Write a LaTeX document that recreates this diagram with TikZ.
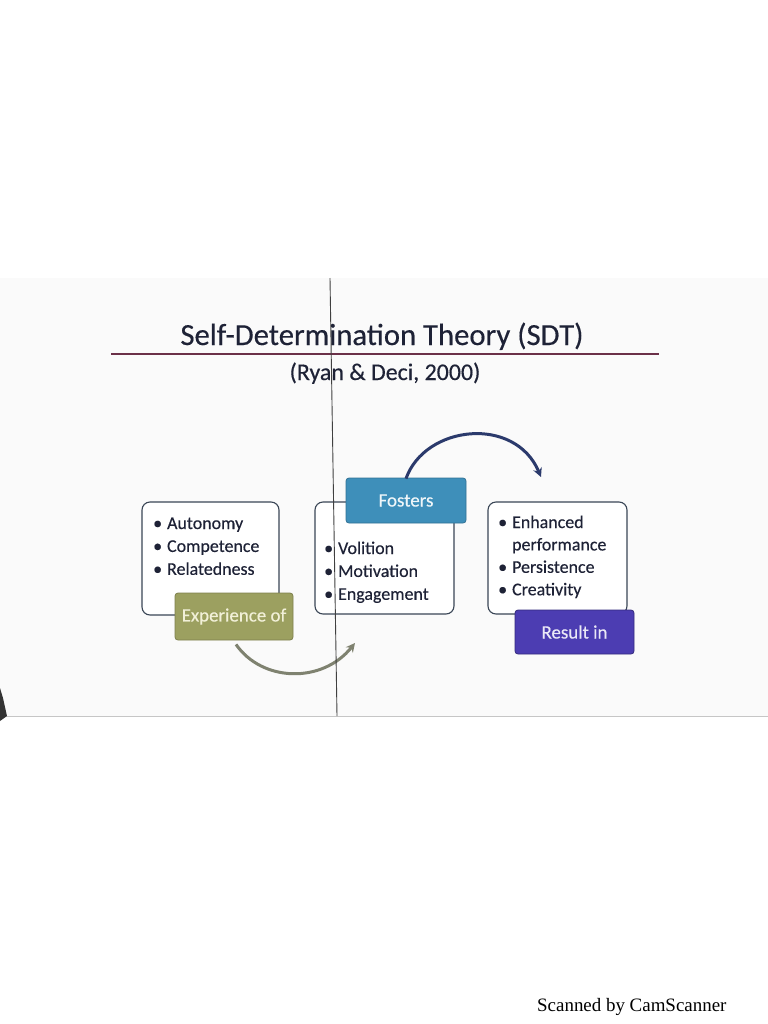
\documentclass[tikz,border=0pt]{standalone}
\usepackage{fontspec}
\setmainfont{Carlito}[FakeBold=0.35]
\newfontfamily\scanfont{Liberation Serif}
\usetikzlibrary{arrows.meta}
\definecolor{txt}{HTML}{1E2236}
\definecolor{rulec}{HTML}{6B3048}
\definecolor{boxline}{HTML}{3A4656}
\definecolor{olive}{HTML}{9CA060}
\definecolor{olivetxt}{HTML}{F2F0D8}
\definecolor{fblue}{HTML}{3E8FBA}
\definecolor{rpurple}{HTML}{4C3DB2}
\definecolor{navy}{HTML}{2B3A6C}
\definecolor{greyarrow}{HTML}{7F8270}
\tikzset{
  listbox/.style={draw=boxline, line width=1.1bp, rounded corners=8bp, fill=white, inner sep=0pt},
  tagbox/.style={rounded corners=3bp, inner sep=0pt, line width=0.8bp, font=\fontsize{19}{22}\selectfont},
  listtext/.style={anchor=base west, inner sep=0pt, text=txt, font=\fontsize{18}{23}\selectfont},
  flowarrow/.style={line width=3bp, -{Stealth[length=9bp,width=9bp]}},
}
\newcommand{\bl}{\textbullet}
\begin{document}
\begin{tikzpicture}[x=1bp,y=-1bp]
\useasboundingbox (0,0) rectangle (768,1024);
\fill[white] (0,0) rectangle (768,1024);
% slide area
\fill[black!2] (0,278) rectangle (768,716);
\draw[gray!45, line width=0.8bp] (0,716) -- (768,716);
\fill[black!80] (0,688) -- (3,698) -- (7,716) -- (0,721) -- cycle;

% title
\node[text=txt, font=\fontsize{30.8}{34}\selectfont, anchor=base] (title) at (382,345) {Self-Determination Theory (SDT)};
\coordinate (ruleL) at (111,354);
\coordinate (ruleR) at (659,354);
\draw[rulec, line width=2.6bp] (ruleL) -- (ruleR);
\node[text=txt, font=\fontsize{24}{28}\selectfont, anchor=base] (sub) at (385,380) {(Ryan \& Deci, 2000)};

% list boxes
\node[listbox, minimum width=137bp, minimum height=113bp] (b1) at (210.5,558.5) {};
\node[listbox, minimum width=139bp, minimum height=112bp] (b2) at (384.5,558) {};
\node[listbox, minimum width=139bp, minimum height=112bp] (b3) at (557.5,558) {};

\node[listtext] (t1) at (153,529) {\begin{tabular}[t]{@{}l@{\hspace{5bp}}l@{}}\bl & Autonomy\\ \bl & Competence\\ \bl & Relatedness\end{tabular}};
\node[listtext] (t2) at (324,554) {\begin{tabular}[t]{@{}l@{\hspace{5bp}}l@{}}\bl & Volition\\ \bl & Motivation\\ \bl & Engagement\end{tabular}};
\node[listtext, font=\fontsize{18}{22.5}\selectfont] (t3) at (498,528) {\begin{tabular}[t]{@{}l@{\hspace{5bp}}l@{}}\bl & Enhanced\\ & performance\\ \bl & Persistence\\ \bl & Creativity\end{tabular}};

% tag boxes
\node[tagbox, fill=olive, draw=olive!80!black, text=olivetxt, minimum width=118bp, minimum height=47bp] (exp) at (234,616.5) {Experience of};
\node[tagbox, fill=fblue, draw=fblue!80!black, text=white!92!fblue, minimum width=120bp, minimum height=45bp] (fos) at (406,500.5) {Fosters};
\node[tagbox, fill=rpurple, draw=rpurple!70!black, text=white!88!rpurple, minimum width=119bp, minimum height=44bp] (res) at (574.5,632) {Result in};

% arrows
\coordinate (a1end) at (355,643);
\draw[flowarrow, greyarrow] ([xshift=2bp,yshift=-4bp]exp.south) .. controls (262,682) and (322,684) .. (a1end);
\coordinate (a2end) at (541,477);
\draw[flowarrow, navy] ([yshift=-1bp]fos.north) .. controls (425,425) and (515,415) .. (a2end);

% scanner artifact line
\coordinate (vtop) at (330,278);
\coordinate (vbot) at (337,716);
\draw[black!75, line width=0.9bp] (vtop) -- (vbot);

% footer
\node[anchor=base west, inner sep=0pt, font=\scanfont\fontsize{19}{22}\selectfont] (scan) at (537,1011) {Scanned by CamScanner};
\end{tikzpicture}
\end{document}
